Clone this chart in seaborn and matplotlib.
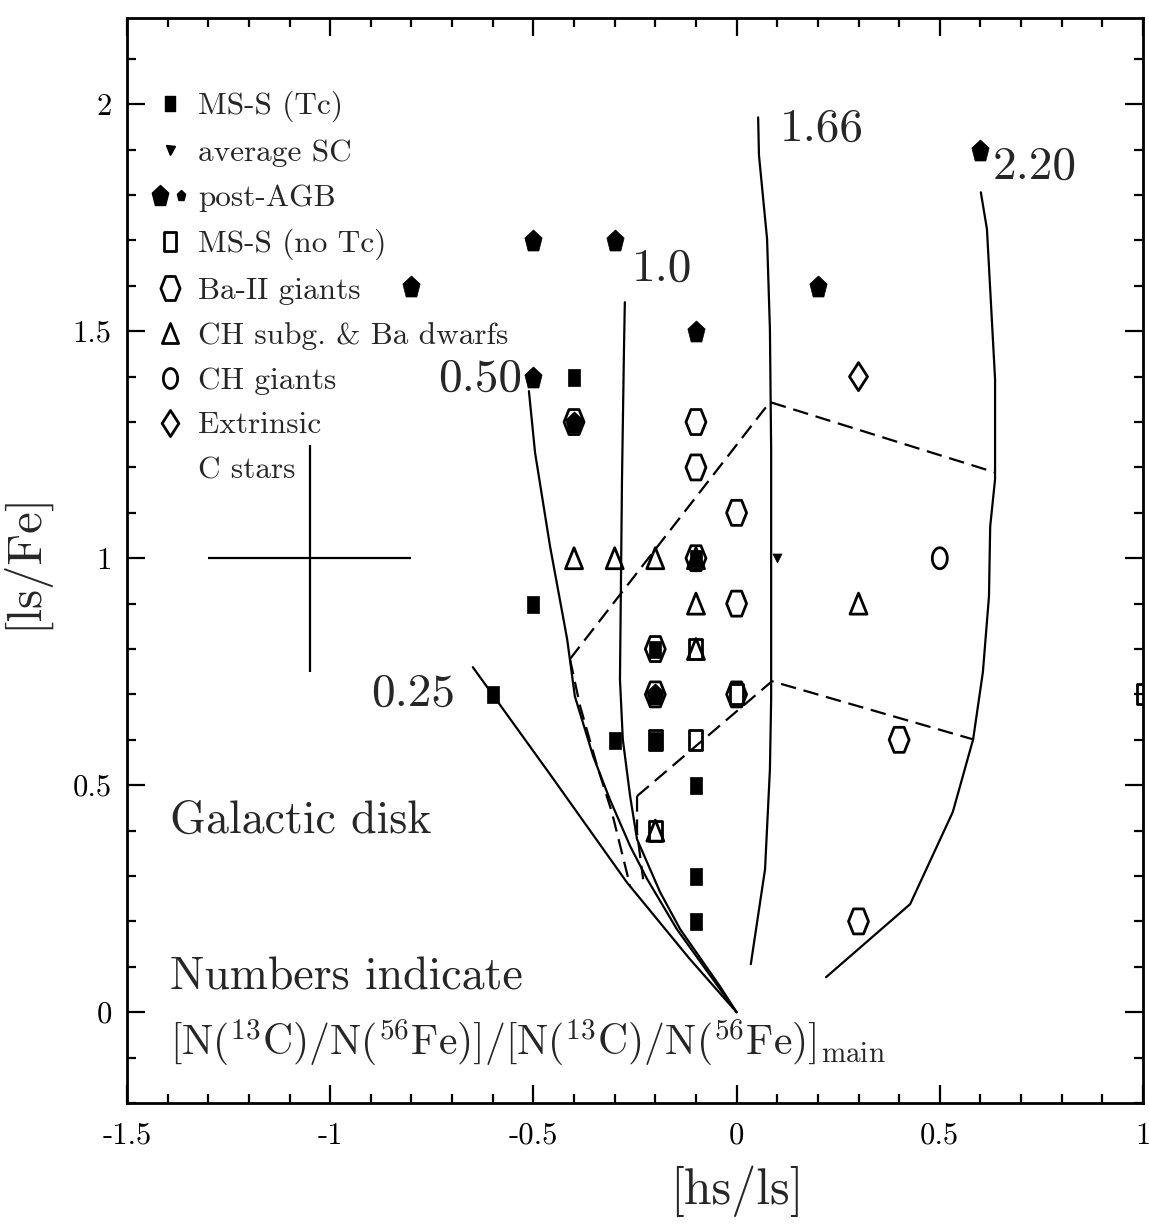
import numpy as np
import matplotlib
matplotlib.use("Agg")
import matplotlib.pyplot as plt
import seaborn as sns
from matplotlib.path import Path
from matplotlib.lines import Line2D
from matplotlib.legend_handler import HandlerTuple
from matplotlib.ticker import FixedLocator, MultipleLocator

# ---------------- data ----------------
ms_tc_x = [-0.6, -0.4, -0.5, -0.3, -0.2, -0.2, -0.1, -0.1, -0.1, -0.1]
ms_tc_y = [0.7, 1.4, 0.9, 0.6, 0.6, 0.8, 0.5, 0.3, 0.2, 1.0]

avg_sc_x = [0.1]
avg_sc_y = [1.0]

post_agb_x = [-0.5, -0.3, -0.8, 0.2, -0.1, -0.5, 0.6, -0.4, -0.2]
post_agb_y = [1.7, 1.7, 1.6, 1.6, 1.5, 1.4, 1.9, 1.3, 0.7]

ms_notc_x = [-0.1, -0.1, -0.2, 0.0, 1.0, -0.2]
ms_notc_y = [0.6, 0.8, 0.4, 0.7, 0.7, 0.6]

ba_giants_x = [-0.4, -0.1, -0.1, 0.0, -0.1, 0.0, -0.2, -0.2, 0.0, 0.4, 0.3]
ba_giants_y = [1.3, 1.3, 1.2, 1.1, 1.0, 0.9, 0.8, 0.7, 0.7, 0.6, 0.2]

ch_subg_x = [-0.4, -0.3, -0.2, -0.1, -0.1, -0.2, 0.3, -0.1]
ch_subg_y = [1.0, 1.0, 1.0, 0.9, 0.8, 0.4, 0.9, 1.0]

ch_giants_x = [0.5]
ch_giants_y = [1.0]

extrinsic_x = [0.3]
extrinsic_y = [1.4]

# model curves (labelled by 13C pocket efficiency)
curve_025_x = [-0.649, -0.459, -0.270, -0.115, 0.0]
curve_025_y = [0.760, 0.524, 0.286, 0.117, 0.0]

curve_050_x = [-0.511, -0.496, -0.459, -0.417, -0.398, -0.353, -0.312, -0.262, -0.220, -0.147, -0.041, 0.0]
curve_050_y = [1.368, 1.233, 1.026, 0.822, 0.696, 0.564, 0.469, 0.366, 0.293, 0.183, 0.051, 0.0]

curve_100_x = [-0.275, -0.277, -0.282, -0.287, -0.280, -0.262, -0.245, -0.188, -0.139, -0.041, 0.0]
curve_100_y = [1.564, 1.467, 1.174, 0.733, 0.601, 0.476, 0.381, 0.264, 0.183, 0.057, 0.0]

curve_166_x = [0.053, 0.055, 0.075, 0.082, 0.085, 0.085, 0.082, 0.070, 0.035]
curve_166_y = [1.971, 1.888, 1.703, 1.504, 1.240, 0.689, 0.535, 0.315, 0.106]

curve_220_x = [0.601, 0.616, 0.636, 0.636, 0.624, 0.621, 0.606, 0.582, 0.532, 0.427, 0.220]
curve_220_y = [1.806, 1.725, 1.394, 1.174, 1.070, 0.916, 0.749, 0.601, 0.441, 0.238, 0.077]

# dashed lines
dash_upper_x = [-0.410, 0.082, 0.636]
dash_upper_y = [0.778, 1.344, 1.189]
dash_lower_x = [-0.245, 0.087, 0.582]
dash_lower_y = [0.476, 0.729, 0.601]
dash_a_x = [-0.410, -0.385, -0.343, -0.307, -0.262]
dash_a_y = [0.778, 0.674, 0.542, 0.441, 0.278]
dash_b_x = [-0.245, -0.245, -0.230]
dash_b_y = [0.476, 0.396, 0.293]

curve_labels = ["0.25", "0.50", "1.0", "1.66", "2.20"]
curve_label_x = [-0.693, -0.528, -0.257, 0.107, 0.631]
curve_label_y = [0.70, 1.394, 1.637, 1.945, 1.861]
curve_label_ha = ["right", "right", "left", "left", "left"]

# typical error bar
err_x, err_y, err_dx, err_dy = [-1.05], [1.0], [0.25], [0.25]

xticks = [-1.5, -1.0, -0.5, 0.0, 0.5, 1.0]
xtick_labels = ["-1.5", "-1", "-0.5", "0", "0.5", "1"]
yticks = [0.0, 0.5, 1.0, 1.5, 2.0]
ytick_labels = ["0", "0.5", "1", "1.5", "2"]

legend_labels = ["MS-S (Tc)", "average SC", "post-AGB", "MS-S (no Tc)",
                 "Ba-II giants", "CH subg. & Ba dwarfs", "CH giants",
                 "Extrinsic", "C stars"]

# ---------------- style ----------------
sns.set_style("ticks")
plt.rcParams["font.family"] = ["cmr10", "DejaVu Serif"]
plt.rcParams["mathtext.fontset"] = "cm"
plt.rcParams["axes.unicode_minus"] = False
plt.rcParams["axes.formatter.use_mathtext"] = True


def poly_marker(pts):
    pts = list(pts) + [pts[0]]
    codes = [Path.MOVETO] + [Path.LINETO] * (len(pts) - 2) + [Path.CLOSEPOLY]
    return Path(pts, codes)


def ellipse_marker(rx, ry, n=40):
    t = np.linspace(0, 2 * np.pi, n, endpoint=False)
    return poly_marker(list(zip(rx * np.cos(t), ry * np.sin(t))))


w, h = 10.0, 12.5
hex_m = poly_marker([(w, 0), (w / 2, h), (-w / 2, h), (-w, 0), (-w / 2, -h), (w / 2, -h)])
sqf_m = poly_marker([(-6.0, -8.5), (6.0, -8.5), (6.0, 8.5), (-6.0, 8.5)])
sqo_m = poly_marker([(-6.5, -10), (6.5, -10), (6.5, 10), (-6.5, 10)])
ang = np.deg2rad(90 + 72 * np.arange(5))
pent_m = poly_marker(list(zip(8.2 * np.cos(ang), 10.5 * np.sin(ang) - 1.0)))
tri_m = poly_marker([(0, 10.5), (-8.5, -10.5), (8.5, -10.5)])
circ_m = ellipse_marker(7.5, 10.5)
dia_m = poly_marker([(9, 0), (0, 14), (-9, 0), (0, -14)])

PX = 72 / 100.0  # points per pixel

fig = plt.figure(figsize=(11.49, 12.24), dpi=100)
ax = fig.add_axes([127 / 1149, 1 - 1103 / 1224, 1016 / 1149, 1085 / 1224])

# ---------------- curves ----------------
for cx, cy in [(curve_025_x, curve_025_y), (curve_050_x, curve_050_y),
               (curve_100_x, curve_100_y), (curve_166_x, curve_166_y),
               (curve_220_x, curve_220_y)]:
    sns.lineplot(x=cx, y=cy, sort=False, estimator=None, color="black",
                 linewidth=1.6, ax=ax, legend=False)

for cx, cy in [(dash_upper_x, dash_upper_y), (dash_lower_x, dash_lower_y),
               (dash_a_x, dash_a_y), (dash_b_x, dash_b_y)]:
    sns.lineplot(x=cx, y=cy, sort=False, estimator=None, color="black",
                 linewidth=1.6, linestyle=(0, (7, 3.5)), ax=ax, legend=False)

# ---------------- points ----------------
open_kw = dict(facecolor="none", edgecolor="black", linewidth=2.0, legend=False, ax=ax, zorder=3)
fill_kw = dict(color="black", edgecolor="black", linewidth=0.5, legend=False, ax=ax, zorder=4)

sns.scatterplot(x=ba_giants_x, y=ba_giants_y, marker=hex_m, s=(25 * PX) ** 2, **open_kw)
sns.scatterplot(x=ch_subg_x, y=ch_subg_y, marker=tri_m, s=(21 * PX) ** 2, **open_kw)
sns.scatterplot(x=ms_notc_x, y=ms_notc_y, marker=sqo_m, s=(20 * PX) ** 2, **open_kw)
sns.scatterplot(x=ch_giants_x, y=ch_giants_y, marker=circ_m, s=(21 * PX) ** 2, **open_kw)
sns.scatterplot(x=extrinsic_x, y=extrinsic_y, marker=dia_m, s=(28 * PX) ** 2, **open_kw)
sns.scatterplot(x=ms_tc_x, y=ms_tc_y, marker=sqf_m, s=(17 * PX) ** 2, **fill_kw)
sns.scatterplot(x=post_agb_x, y=post_agb_y, marker=pent_m, s=(21 * PX) ** 2, **fill_kw)
sns.scatterplot(x=avg_sc_x, y=avg_sc_y, marker="v", s=(9 * PX) ** 2, **fill_kw)

# error cross
ax.errorbar(err_x, err_y, xerr=err_dx, yerr=err_dy, fmt="none",
            ecolor="black", elinewidth=1.6, capsize=0)

# curve labels
for lab, lx, ly, ha in zip(curve_labels, curve_label_x, curve_label_y, curve_label_ha):
    ax.text(lx, ly, lab, ha=ha, va="center", fontsize=34)

# annotations
ax.text(-1.394, 0.396, "Galactic disk", fontsize=33, va="baseline")
ax.text(-1.394, 0.05, "Numbers indicate", fontsize=33, va="baseline")
ax.text(-1.394, -0.095,
        r"[N($^{13}$C)/N($^{56}$Fe)]/[N($^{13}$C)/N($^{56}$Fe)]$_{\rm main}$",
        fontsize=30, va="baseline")

# ---------------- legend ----------------
def mk(m, size_px, filled):
    if filled:
        return Line2D([], [], linestyle="none", marker=m, markersize=size_px * PX,
                      markerfacecolor="black", markeredgecolor="black")
    return Line2D([], [], linestyle="none", marker=m, markersize=size_px * PX,
                  markerfacecolor="none", markeredgecolor="black", markeredgewidth=2.0)

handles = [mk(sqf_m, 15, True), mk("v", 9, True),
           (mk(pent_m, 20, True), mk(pent_m, 10, True)),
           mk(sqo_m, 19, False), mk(hex_m, 24, False), mk(tri_m, 20, False),
           mk(circ_m, 20, False), mk(dia_m, 26, False),
           Line2D([], [], linestyle="none")]
leg = ax.legend(handles, legend_labels, loc="upper left",
                bbox_to_anchor=(0.0273, 0.933), frameon=False, fontsize=22.5,
                handlelength=1.0, handletextpad=0.40, labelspacing=0.54,
                borderpad=0, borderaxespad=0,
                handler_map={tuple: HandlerTuple(ndivide=None, pad=0.3)})

# ---------------- axes ----------------
ax.set_xlim(-1.5, 1.0)
ax.set_ylim(-0.2, 2.19)
ax.xaxis.set_major_locator(FixedLocator(xticks))
ax.set_xticklabels(xtick_labels)
ax.yaxis.set_major_locator(FixedLocator(yticks))
ax.set_yticklabels(ytick_labels)
ax.xaxis.set_minor_locator(MultipleLocator(0.1))
ax.yaxis.set_minor_locator(MultipleLocator(0.1))
ax.tick_params(which="both", direction="in", top=True, right=True, width=1.6, colors="black")
ax.tick_params(which="major", length=13, labelsize=22)
ax.tick_params(which="minor", length=6.5)
ax.tick_params(axis="x", which="major", pad=14)
ax.tick_params(axis="y", which="major", pad=11)
for sp in ax.spines.values():
    sp.set_linewidth(2.0)
    sp.set_color("black")

ax.set_xlabel("[hs/ls]", fontsize=36)
ax.xaxis.set_label_coords(0.600, -0.058)
ax.set_ylabel("[ls/Fe]", fontsize=35)
ax.yaxis.set_label_coords(-0.078, 0.50)

fig.savefig("out.png", dpi=100)
